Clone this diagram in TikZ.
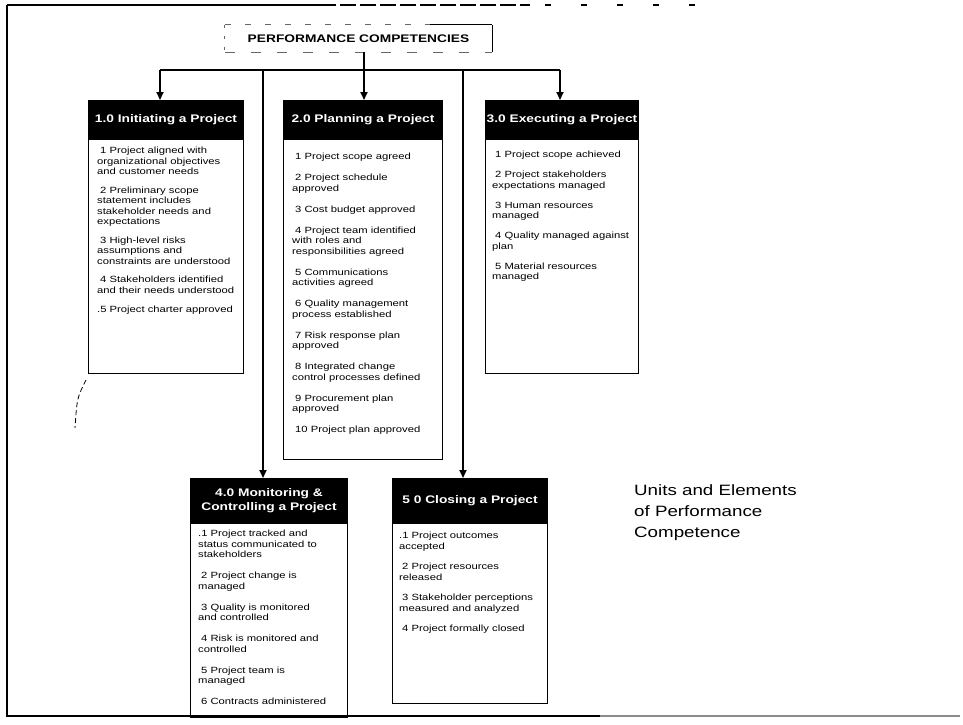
\documentclass[tikz,border=0pt]{standalone}
\usepackage{fontspec}
\setmainfont[FakeStretch=1.25]{Liberation Sans}
\usetikzlibrary{arrows.meta}
\newcommand{\bodyfnt}{\fontsize{9}{10.5}\selectfont}
\newcommand{\hdrfnt}{\bfseries\fontsize{11}{13.5}\selectfont}
\newcommand{\itind}{\hspace*{3pt}}
\begin{document}
\begin{tikzpicture}[x=1pt,y=-1pt,
  hdr/.style={fill=black, draw=black, line width=1pt, text=white, font=\hdrfnt,
    align=center, inner sep=0pt, minimum height=38pt, anchor=north west},
  bodybox/.style={draw=black, line width=1.3pt, inner sep=0pt, anchor=north west},
  items/.style={anchor=north west, align=left, font=\bodyfnt, inner sep=0pt},
  link/.style={line width=1.8pt},
  arr/.style={link, -{Triangle[length=8pt,width=7pt]}},
  frame/.style={line width=2pt}]
\useasboundingbox (0,0) rectangle (963,724);

% outer frame
\draw[frame] (7,5) -- (7,716) -- (600,716);
\draw[frame, black!45] (600,716) -- (960,716);
\draw[frame] (7,5) -- (320,5);
\draw[line width=1.3pt, dash pattern=on 16pt off 4pt] (320,5) -- (530,5);
\draw[line width=1.2pt, dash pattern=on 6pt off 30pt] (545,5) -- (700,5);

% title
\node[font=\bfseries\fontsize{11}{13}\selectfont, minimum width=267pt, minimum height=27pt,
  inner sep=0pt] (tt) at (358.5,38.5) {PERFORMANCE COMPETENCIES};
\draw[line width=1.2pt] (tt.north east) -- (tt.south east);
\draw[line width=0.9pt] ([xshift=-62pt]tt.north east) -- (tt.north east);
\draw[line width=0.7pt, black!60, dash pattern=on 6pt off 14pt] (tt.north west) -- ([xshift=-62pt]tt.north east);
\draw[line width=0.7pt, black!60, dash pattern=on 10pt off 16pt] (tt.south west) -- (tt.south east);
\draw[line width=0.7pt, black!60, dash pattern=on 3pt off 8pt] (tt.north west) -- (tt.south west);

% boxes: headers
\node[hdr, minimum width=155pt] (h1) at (88,100) {1.0 Initiating a Project};
\node[hdr, minimum width=159pt] (h2) at (283,100) {2.0 Planning a Project};
\node[hdr, minimum width=153pt] (h3) at (485,100) {3.0 Executing a Project};
\node[hdr, minimum width=157pt, minimum height=44pt] (h4) at (190,478) {4.0 Monitoring \&\\Controlling a Project};
\node[hdr, minimum width=155pt, minimum height=44pt] (h5) at (392,478) {5 0 Closing a Project};

% boxes: bodies
\node[bodybox, minimum width=155pt, minimum height=234pt] (b1) at (h1.south west) {};
\node[bodybox, minimum width=159pt, minimum height=320pt] (b2) at (h2.south west) {};
\node[bodybox, minimum width=153pt, minimum height=234pt] (b3) at (h3.south west) {};
\node[bodybox, minimum width=157pt, minimum height=194pt] (b4) at (h4.south west) {};
\node[bodybox, minimum width=155pt, minimum height=180pt] (b5) at (h5.south west) {};

% items
\node[items] (t1) at ([xshift=9pt,yshift=-8pt]b1.north west) {%
\itind 1 Project aligned with\\organizational objectives\\and customer needs\\[8pt]
\itind 2 Preliminary scope\\statement includes\\stakeholder needs and\\expectations\\[8pt]
\itind 3 High-level risks\\assumptions and\\constraints are understood\\[8pt]
\itind 4 Stakeholders identified\\and their needs understood\\[9pt]
.5 Project charter approved};

\node[items] (t2) at ([xshift=9pt,yshift=-14pt]b2.north west) {%
\itind 1 Project scope agreed\\[10.5pt]
\itind 2 Project schedule\\approved\\[10.5pt]
\itind 3 Cost budget approved\\[10.5pt]
\itind 4 Project team identified\\with roles and\\responsibilities agreed\\[10.5pt]
\itind 5 Communications\\activities agreed\\[10.5pt]
\itind 6 Quality management\\process established\\[10.5pt]
\itind 7 Risk response plan\\approved\\[10.5pt]
\itind 8 Integrated change\\control processes defined\\[10.5pt]
\itind 9 Procurement plan\\approved\\[10.5pt]
\itind 10 Project plan approved};

\node[items] (t3) at ([xshift=7pt,yshift=-12pt]b3.north west) {%
\itind 1 Project scope achieved\\[9.5pt]
\itind 2 Project stakeholders\\expectations managed\\[9.5pt]
\itind 3 Human resources\\managed\\[9.5pt]
\itind 4 Quality managed against\\plan\\[9.5pt]
\itind 5 Material resources\\managed};

\node[items] (t4) at ([xshift=8pt,yshift=-7pt]b4.north west) {%
.1 Project tracked and\\status communicated to\\stakeholders\\[10.5pt]
\itind 2 Project change is\\managed\\[10.5pt]
\itind 3 Quality is monitored\\and controlled\\[10.5pt]
\itind 4 Risk is monitored and\\controlled\\[10.5pt]
\itind 5 Project team is\\managed\\[10.5pt]
\itind 6 Contracts administered};

\node[items] (t5) at ([xshift=7pt,yshift=-9pt]b5.north west) {%
.1 Project outcomes\\accepted\\[10pt]
\itind 2 Project resources\\released\\[10pt]
\itind 3 Stakeholder perceptions\\measured and analyzed\\[10pt]
\itind 4 Project formally closed};

% side caption
\node[anchor=north west, align=left, inner sep=0pt, font=\fontsize{15}{21}\selectfont] (cap) at (634,484)
  {Units and Elements\\of Performance\\Competence};

% connectors
\coordinate (drop) at (364,0);
\coordinate (bus1) at (160,70);
\coordinate (bus4) at (263,70);
\coordinate (bus5) at (463,70);
\coordinate (bus3) at (560,70);
\draw[link] (bus1) -- (bus3);
\draw[arr] (tt.south -| drop) -- (drop |- h2.north);
\draw[arr] (bus1) -- (bus1 |- h1.north);
\draw[arr] (bus3) -- (bus3 |- h3.north);
\draw[arr] (bus4) -- (bus4 |- h4.north);
\draw[arr] (bus5) -- (bus5 |- h5.north);

% scan mark
\draw[line width=0.8pt, dash pattern=on 5pt off 3pt] (86,380) .. controls (77,398) .. (75,428);
\end{tikzpicture}
\end{document}
